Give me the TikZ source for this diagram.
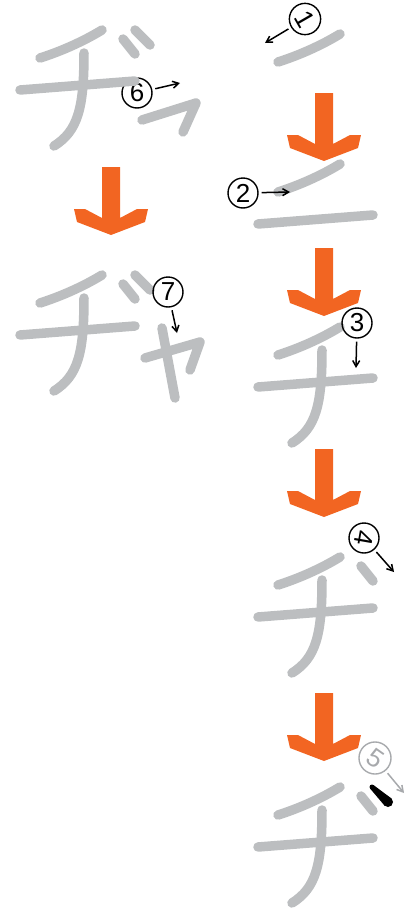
\documentclass[tikz,border=0pt]{standalone}
\usepackage{fontspec}
\setsansfont{Liberation Sans}
\usetikzlibrary{arrows.meta}

\definecolor{naranja}{HTML}{F26522}
\definecolor{grisclaro}{HTML}{BCBEC0}
\definecolor{grismedio}{HTML}{A7A9AC}

\tikzset{
    trazo/.style={line width=9.5, grisclaro, line cap=round, line join=round},
    num/.style={draw, circle, line width=1.4, minimum size=30, inner sep=0,
        font=\sffamily\fontsize{26}{26}\selectfont},
    flecha/.style={->, line width=1.5, shorten <=3},
}

% trazos de la chi
\newcommand{\chiuno}{\draw[trazo] (278,355) .. controls (300,348) and (322,338) .. (340,327);}
\newcommand{\chidos}{\draw[trazo] (258,387) -- (373,378);}
\newcommand{\chitres}{\draw[trazo] (322,350) .. controls (322,405) and (316,428) .. (292,443);}
\newcommand{\tenuno}{\draw[trazo] (361,336) -- (373,351);}
\newcommand{\tendos}{\draw[trazo] (373,327) -- (388,342);}

\begin{document}
\begin{tikzpicture}[x=1pt, y=-1pt, >={Straight Barb[length=6pt, width=7pt]}]
    \useasboundingbox (0,0) rectangle (415,910);

    % Flechas naranjas
    \foreach \cx/\cy in {324/93, 324/248, 324/449, 324/693, 111/167}
        \fill[naranja, shift={(\cx,\cy)}] (-9,0) -- (9,0) -- (9,51) -- (26,42) -- (37,42)
            -- (34,55) -- (0,68) -- (-34,55) -- (-37,42) -- (-26,42) -- (-9,51) -- cycle;

    % Paso 1
    \begin{scope}[shift={(0,-293)}]
        \chiuno
    \end{scope}
    \node[num] (n1) at (305,19) {\rotatebox{-60}{1}};
    \coordinate (f1) at (265,43);
    \draw[flecha] (n1) -- (f1);

    % Paso 2
    \begin{scope}[shift={(0,-163)}]
        \chiuno
        \chidos
    \end{scope}
    \node[num] (n2) at (243,193) {2};
    \coordinate (f2) at (290,192);
    \draw[flecha] (n2) -- (f2);

    % Paso 3
    \chiuno
    \chidos
    \chitres
    \node[num] (n3) at (357,323) {3};
    \coordinate (f3) at (356,368);
    \draw[flecha] (n3) -- (f3);

    % Paso 4
    \begin{scope}[shift={(0,230)}]
        \chiuno
        \chidos
        \chitres
        \tenuno
    \end{scope}
    \node[num] (n4) at (364,538) {\rotatebox{-100}{4}};
    \coordinate (f4) at (394,572);
    \draw[flecha] (n4) -- (f4);

    % Paso 5
    \begin{scope}[shift={(0,460)}]
        \chiuno
        \chidos
        \chitres
        \tenuno
        \fill (370.3,328.8) -- (373.7,325.2) -- (391.4,338.4) -- (384.6,345.7) -- cycle;
        \fill (372,327) circle (2.5);
        \fill (388,342) circle (5);
    \end{scope}
    \node[num, grismedio, minimum size=28] (n5) at (375,758) {\rotatebox{-35}{5}};
    \coordinate (f5) at (404,793);
    \draw[flecha, grismedio] (n5) -- (f5);

    % Paso 6
    \node[num] (n6) at (137,93) {6};
    \begin{scope}[shift={(-238,-297)}]
        \chiuno
        \chidos
        \chitres
        \tenuno
        \tendos
    \end{scope}
    \draw[trazo] (142,120) -- (196,103) -- (183,132);
    \coordinate (f6) at (180,83);
    \draw[flecha] (n6) -- (f6);

    % Paso 7
    \begin{scope}[shift={(-238,-52)}]
        \chiuno
        \chidos
        \chitres
        \tenuno
        \tendos
    \end{scope}
    \draw[trazo] (162,328) -- (175,398);
    \draw[trazo] (145,358) -- (200,342) -- (190,370);
    \node[num] (n7) at (168,292) {7};
    \coordinate (f7) at (177,333);
    \draw[flecha] (n7) -- (f7);
\end{tikzpicture}
\end{document}
